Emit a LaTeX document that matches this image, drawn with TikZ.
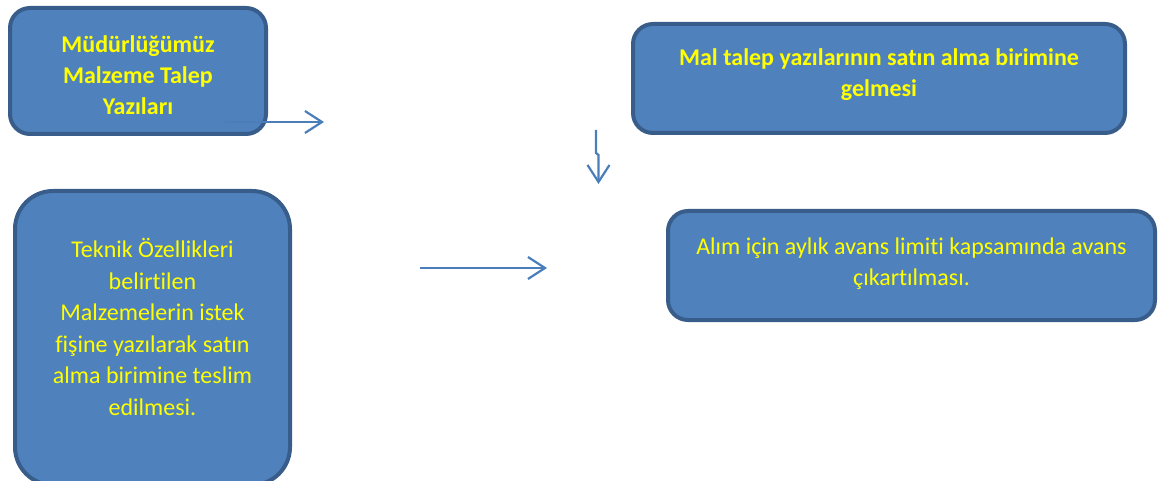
\documentclass[tikz,border=0pt]{standalone}
\usepackage{fontspec}
\setmainfont{Carlito}[Ligatures=NoCommon]
\usetikzlibrary{arrows.meta,calc}
\definecolor{boxfill}{HTML}{4F81BD}
\definecolor{boxline}{HTML}{385D8A}
\definecolor{arrowcol}{HTML}{4A7EBB}
\definecolor{txtyellow}{HTML}{FFFF00}
\tikzset{
  box/.style={draw=boxline, fill=boxfill, line width=4pt, rounded corners=20pt, inner sep=0pt},
  txt/.style={text=txtyellow, align=center, font=\fontsize{24}{31.5}\selectfont, inner sep=0pt},
  btxt/.style={txt, font=\fontsize{24}{31}\selectfont\bfseries},
  conn/.style={draw=arrowcol, line width=2.2pt, -{Straight Barb[length=17pt,width=22pt,line width=2.2pt]}}
}
\begin{document}
\begin{tikzpicture}[x=1pt,y=-1pt]
\useasboundingbox (0,0) rectangle (1159,481);
\begin{scope}
\clip (0,0) rectangle (1159,481);
% boxes
\node[box, minimum width=256pt, minimum height=126pt] (b1) at (138,71) {};
\node[box, minimum width=492pt, minimum height=109pt] (b2) at (879,78.5) {};
\node[box, rounded corners=38pt, minimum width=275pt, minimum height=294pt] (b3) at (152.5,338) {};
\node[box, minimum width=487pt, minimum height=109pt] (b4) at (911.5,265.5) {};
% texts
\node[btxt] (t1) at ($(b1.center)+(0,4)$) {Müdürlüğümüz\\Malzeme Talep\\Yazıları};
\node[btxt] (t2) at ($(b2.center)+(0,-4)$) {Mal talep yazılarının satın alma birimine\\gelmesi};
\node[txt] (t3) at ($(b3.center)+(0,-11)$) {Teknik Özellikleri\\belirtilen\\Malzemelerin istek\\fişine yazılarak satın\\alma birimine teslim\\edilmesi.};
\node[txt] (t4) at ($(b4.center)+(0,-2)$) {Alım için aylık avans limiti kapsamında avans\\çıkartılması.};
\end{scope}
% connectors
\coordinate (a1s) at (225,122);
\coordinate (a1e) at (324,122);
\draw[conn] (a1s) -- (a1e);
\coordinate (a2s) at (596,130);
\coordinate (a2m) at (596,153);
\coordinate (a2n) at (598.5,155);
\coordinate (a2e) at (598.5,184);
\draw[conn] (a2s) -- (a2m) -- (a2n) -- (a2e);
\coordinate (a3s) at (420,268);
\coordinate (a3e) at (547,268);
\draw[conn] (a3s) -- (a3e);
\end{tikzpicture}
\end{document}
